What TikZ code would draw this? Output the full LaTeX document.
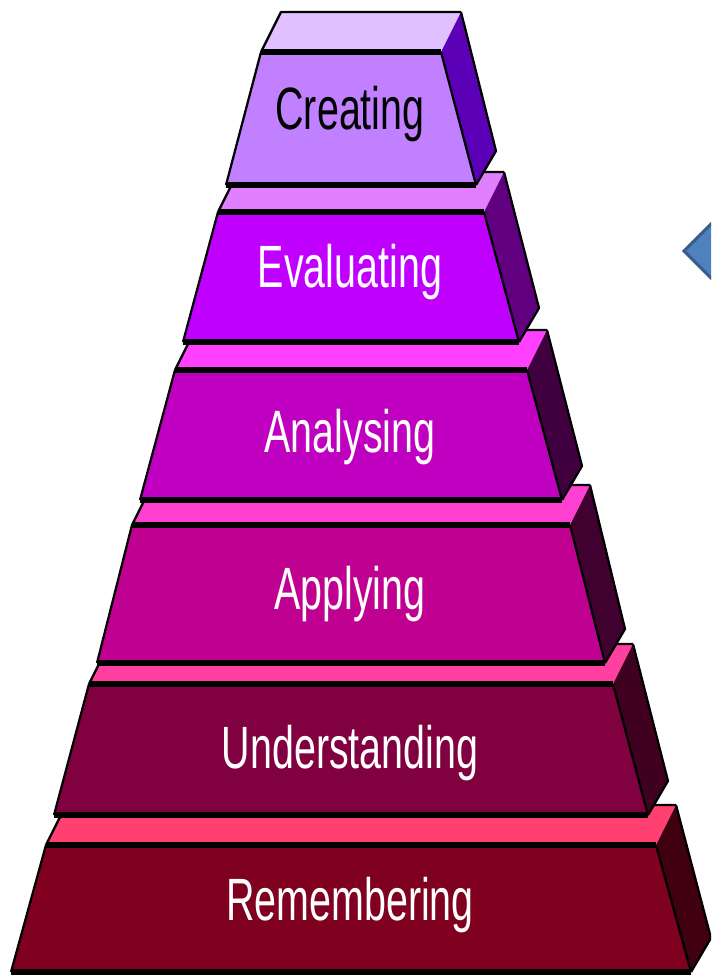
\documentclass[tikz,border=0pt]{standalone}
\usepackage{fontspec}
\usepackage{tikz}
\usepackage{xcolor}

\newfontfamily\lvlfont[FakeStretch=0.66]{Liberation Sans}

\definecolor{crTop}{HTML}{E0C0FF}
\definecolor{crFront}{HTML}{C080FF}
\definecolor{crSide}{HTML}{5C00B8}
\definecolor{evTop}{HTML}{E080FF}
\definecolor{evFront}{HTML}{C000FF}
\definecolor{evSide}{HTML}{600080}
\definecolor{anTop}{HTML}{FF40FF}
\definecolor{anFront}{HTML}{C000C0}
\definecolor{anSide}{HTML}{400040}
\definecolor{apTop}{HTML}{FF40D0}
\definecolor{apFront}{HTML}{C00090}
\definecolor{apSide}{HTML}{400030}
\definecolor{unTop}{HTML}{FF40A0}
\definecolor{unFront}{HTML}{800040}
\definecolor{unSide}{HTML}{400020}
\definecolor{reTop}{HTML}{FF4070}
\definecolor{reFront}{HTML}{800020}
\definecolor{reSide}{HTML}{400010}
\definecolor{diamFill}{HTML}{4F81BD}
\definecolor{diamLine}{HTML}{385D8A}

\begin{document}
\begin{tikzpicture}[x=0.02cm, y=-0.02cm,
  edge/.style={black, line width=0.45mm, line join=round},
  bar/.style={black, line width=1.2mm},
  lbl/.style={anchor=base, inner sep=0pt, text=white, font=\lvlfont\fontsize{34}{40}\selectfont}]

\useasboundingbox (0,0) rectangle (711,979);

\begin{scope}
\clip (0,0) rectangle (711,979);

% arrow piece at the right border
\draw[fill=diamFill, draw=diamLine, line width=0.6mm] (684,251)--(724,211)--(764,251)--(724,291)--cycle;

% Remembering
{
\fill[reTop] (46,845)--++(20,-40)--(676,805)--(656,845)--cycle;
\draw[edge] (46,845)--++(20,-40)--(676,805);
\fill[reSide] (656,845)--(676,805)--(711,938)--(691,972)--cycle;
\draw[edge] (676,805)--(711,938)--(691,972);
\fill[reFront] (46,845)--(656,845)--(691,972)--(11,972)--cycle;
\draw[edge] (46,845)--(11,972);
\draw[edge] (656,845)--(691,972);
\draw[bar] (46,845)--(656,845);
\draw[bar] (11,972)--(691,972);
\node[lbl] (remembering) at (350,920) {Remembering};
}

% Understanding
{
\fill[unTop] (89,684)--++(20,-40)--(633,644)--(613,684)--cycle;
\draw[edge] (89,684)--++(20,-40)--(633,644);
\fill[unSide] (613,684)--(633,644)--(668,781)--(648,815)--cycle;
\draw[edge] (633,644)--(668,781)--(648,815);
\fill[unFront] (89,684)--(613,684)--(648,815)--(54,815)--cycle;
\draw[edge] (89,684)--(54,815);
\draw[edge] (613,684)--(648,815);
\draw[bar] (89,684)--(613,684);
\draw[bar] (54,815)--(648,815);
\node[lbl] (understanding) at (350,768) {Understanding};
}

% Applying
{
\fill[apTop] (132,525)--++(20,-40)--(590,485)--(570,525)--cycle;
\draw[edge] (132,525)--++(20,-40)--(590,485);
\fill[apSide] (570,525)--(590,485)--(625,629)--(605,663)--cycle;
\draw[edge] (590,485)--(625,629)--(605,663);
\fill[apFront] (132,525)--(570,525)--(605,663)--(97,663)--cycle;
\draw[edge] (132,525)--(97,663);
\draw[edge] (570,525)--(605,663);
\draw[bar] (132,525)--(570,525);
\draw[bar] (97,663)--(605,663);
\node[lbl] (applying) at (350,609) {Applying};
}

% Analysing
{
\fill[anTop] (175,370)--++(20,-40)--(547,330)--(527,370)--cycle;
\draw[edge] (175,370)--++(20,-40)--(547,330);
\fill[anSide] (527,370)--(547,330)--(582,466)--(562,500)--cycle;
\draw[edge] (547,330)--(582,466)--(562,500);
\fill[anFront] (175,370)--(527,370)--(562,500)--(140,500)--cycle;
\draw[edge] (175,370)--(140,500);
\draw[edge] (527,370)--(562,500);
\draw[bar] (175,370)--(527,370);
\draw[bar] (140,500)--(562,500);
\node[lbl] (analysing) at (350,452) {Analysing};
}

% Evaluating
{
\fill[evTop] (218,212)--++(20,-40)--(504,172)--(484,212)--cycle;
\draw[edge] (218,212)--++(20,-40)--(504,172);
\fill[evSide] (484,212)--(504,172)--(539,308)--(519,342)--cycle;
\draw[edge] (504,172)--(539,308)--(519,342);
\fill[evFront] (218,212)--(484,212)--(519,342)--(183,342)--cycle;
\draw[edge] (218,212)--(183,342);
\draw[edge] (484,212)--(519,342);
\draw[bar] (218,212)--(484,212);
\draw[bar] (183,342)--(519,342);
\node[lbl] (evaluating) at (350,288) {Evaluating};
}

% Creating
{
\fill[crTop] (261,52)--++(20,-40)--(461,12)--(441,52)--cycle;
\draw[edge] (261,52)--++(20,-40)--(461,12);
\fill[crSide] (441,52)--(461,12)--(496,151)--(476,185)--cycle;
\draw[edge] (461,12)--(496,151)--(476,185);
\fill[crFront] (261,52)--(441,52)--(476,185)--(226,185)--cycle;
\draw[edge] (261,52)--(226,185);
\draw[edge] (441,52)--(476,185);
\draw[bar] (261,52)--(441,52);
\draw[bar] (226,185)--(476,185);
\node[lbl, text=black] (creating) at (350,130) {Creating};
}

\end{scope}

\end{tikzpicture}
\end{document}
